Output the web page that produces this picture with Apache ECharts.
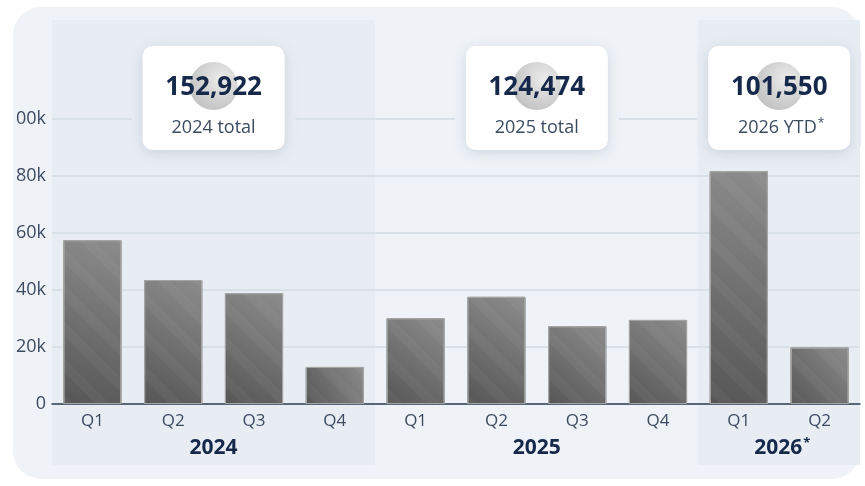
<!DOCTYPE html>
<html>
<head>
<meta charset="utf-8">
<script src="https://cdn.jsdelivr.net/npm/echarts@6/dist/echarts.min.js"></script>
<style>
	html, body { margin: 0; padding: 0; background: #ffffff; }
	#main { width: 865px; height: 486px; }
</style>
</head>
<body>
<div id="main"></div>
<script>
// 분기별 데이터
var categories = ['Q1', 'Q2', 'Q3', 'Q4', 'Q1', 'Q2', 'Q3', 'Q4', 'Q1', 'Q2'];
var values = [57500, 43500, 38900, 13000, 30100, 37600, 27300, 29500, 81700, 19850];
var years = ['2024', '2025', '2026'];
var yearSizes = [4, 4, 2];
var yearMarks = ['', '', '*'];
var totals = ['152,922', '124,474', '101,550'];
var totalLabels = ['2024 total', '2025 total', '2026 YTD'];
var yTicks = [0, 20000, 40000, 60000, 80000, 100000];

var PANEL = '#eff3f7';
var BAND = '#e8edf3';
var TEXT = '#3d4b60';
var NAVY = '#16294a';
var FONT = '"Open Sans", "Noto Sans", sans-serif';

var voChart = echarts.init(document.getElementById('main'));

var voOption = {
	backgroundColor: '#ffffff',
	animation: false,
	grid: { left: 52, right: 5, top: 119, bottom: 82 },
	xAxis: {
		type: 'category',
		data: categories,
		axisTick: { show: false },
		axisLine: { lineStyle: { color: '#2f3e55', width: 1.5 } },
		axisLabel: { color: TEXT, fontSize: 17, fontFamily: FONT, margin: 9 }
	},
	yAxis: {
		type: 'value',
		min: yTicks[0],
		max: yTicks[yTicks.length - 1],
		interval: yTicks[1] - yTicks[0],
		axisLine: { show: false },
		axisTick: { show: false },
		splitLine: { lineStyle: { color: '#d3dbe5', width: 1.5 } },
		axisLabel: {
			color: TEXT, fontSize: 18, fontFamily: FONT, margin: 6,
			formatter: function(v){ return v === 0 ? '0' : (v / 1000) + 'k'; }
		}
	},
	series: [{
		type: 'bar',
		data: values,
		barWidth: '72%',
		z: 3,
		itemStyle: {
			color: new echarts.graphic.LinearGradient(1, 0, 0, 1, [
				{ offset: 0, color: '#8c8c8c' },
				{ offset: 1, color: '#565656' }
			]),
			borderColor: '#a3a3a3',
			borderWidth: 1,
			decal: {
				symbol: 'rect',
				symbolSize: 1,
				dashArrayX: [1, 0],
				dashArrayY: [10, 16],
				rotation: Math.PI / 4,
				color: 'rgba(255,255,255,0.035)'
			}
		}
	}]
};

voChart.setOption(voOption);

/**
 * 연도별 배경 밴드, 합계 카드, 연도 라벨을 그립니다.
 */
function drawOverlay(){
	var step = voChart.convertToPixel({ xAxisIndex: 0 }, 1) - voChart.convertToPixel({ xAxisIndex: 0 }, 0);
	var elements = [];

	// 패널 배경
	elements.push({
		type: 'rect', z: -20, silent: true,
		shape: { x: 13, y: 7, width: 847, height: 472, r: 28 },
		style: { fill: PANEL }
	});

	var idx = 0;
	for (var i = 0; i < years.length; i++) {
		var x0 = voChart.convertToPixel({ xAxisIndex: 0 }, idx) - step / 2;
		var x1 = voChart.convertToPixel({ xAxisIndex: 0 }, idx + yearSizes[i] - 1) + step / 2;
		var cx = (x0 + x1) / 2;
		var shaded = (i !== 1);
		var bg = shaded ? BAND : PANEL;

		if (shaded) {
			elements.push({
				type: 'rect', z: -15, silent: true,
				shape: { x: x0, y: 20, width: x1 - x0, height: 445 },
				style: { fill: BAND }
			});
		}

		// 카드 주변 여백
		elements.push({
			type: 'rect', z: 10, silent: true,
			shape: { x: cx - 82, y: 38, width: 164, height: 120, r: 16 },
			style: { fill: bg }
		});
		elements.push({
			type: 'rect', z: 11, silent: true,
			shape: { x: cx - 71, y: 46, width: 142, height: 104, r: 10 },
			style: {
				fill: '#ffffff',
				shadowBlur: 14,
				shadowOffsetY: 3,
				shadowColor: 'rgba(90,110,140,0.22)'
			}
		});
		elements.push({
			type: 'circle', z: 12, silent: true,
			shape: { cx: cx, cy: 86, r: 24 },
			style: {
				fill: new echarts.graphic.RadialGradient(0.65, 0.35, 0.8, [
					{ offset: 0, color: '#ebebeb' },
					{ offset: 1, color: '#bdbdbd' }
				])
			}
		});
		elements.push({
			type: 'text', z: 13, silent: true,
			x: cx, y: 88,
			style: {
				text: totals[i], fill: NAVY, fontSize: 26, fontWeight: 'bold', fontFamily: FONT,
				align: 'center', verticalAlign: 'middle'
			}
		});
		elements.push({
			type: 'text', z: 13, silent: true,
			x: cx + (yearMarks[i] ? 2 : 0), y: 128,
			style: {
				text: '{a|' + totalLabels[i] + '}' + (yearMarks[i] ? '{s|' + yearMarks[i] + '}' : ''),
				align: 'center', verticalAlign: 'middle',
				rich: {
					a: { fill: TEXT, fontSize: 18, fontFamily: FONT },
					s: { fill: TEXT, fontSize: 12, fontFamily: FONT, padding: [0, 0, 9, 1] }
				}
			}
		});

		// 연도 라벨
		elements.push({
			type: 'text', z: 13, silent: true,
			x: cx + (yearMarks[i] ? 3 : 0), y: 448,
			style: {
				text: '{y|' + years[i] + '}' + (yearMarks[i] ? '{s|' + yearMarks[i] + '}' : ''),
				align: 'center', verticalAlign: 'middle',
				rich: {
					y: { fill: NAVY, fontSize: 21, fontWeight: 'bold', fontFamily: FONT },
					s: { fill: NAVY, fontSize: 13, fontWeight: 'bold', fontFamily: FONT, padding: [0, 0, 10, 1] }
				}
			}
		});

		idx += yearSizes[i];
	}

	// 왼쪽 가장자리 잘림
	elements.push({
		type: 'rect', z: 30, silent: true,
		shape: { x: 0, y: 0, width: 13, height: 486 },
		style: { fill: '#ffffff' }
	});

	voChart.setOption({ graphic: { elements: elements } });
}

drawOverlay();

window.addEventListener('resize', function(){
	voChart.resize();
});
</script>
</body>
</html>
